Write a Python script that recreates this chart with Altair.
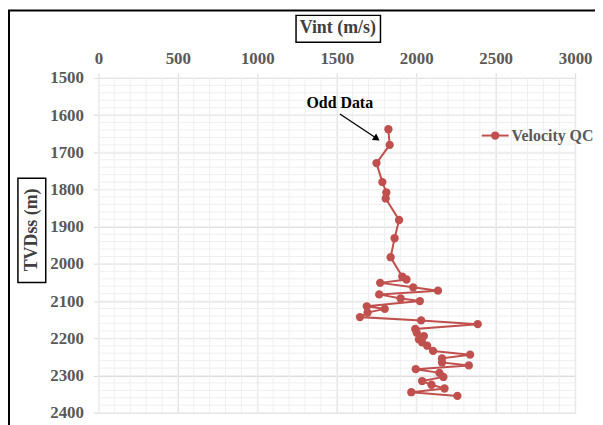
import altair as alt
import pandas as pd

# Interval velocity QC data
vint = [1825, 1833, 1750, 1787, 1812, 1808, 1892, 1864, 1839,
        1912, 1939, 1773, 1981, 2137, 1767, 1902, 2023, 1689, 1802,
        1694, 1646, 2031, 2387, 1994, 2003, 2048, 2017, 2037, 2069,
        2106, 2339, 2162, 2162, 2331, 1997, 2146, 2171, 2037, 2096,
        2178, 1969, 2259]
tvdss = [1638, 1680, 1729, 1780, 1808, 1824, 1882, 1931, 1982,
         2034, 2042, 2051, 2063, 2072, 2082, 2093, 2100, 2114, 2121,
         2131, 2143, 2152, 2162, 2175, 2185, 2194, 2203, 2211, 2220,
         2234, 2244, 2254, 2265, 2273, 2283, 2293, 2304, 2315, 2325,
         2335, 2345, 2355]

x_major = [0, 500, 1000, 1500, 2000, 2500, 3000]
y_major = [1500, 1600, 1700, 1800, 1900, 2000, 2100, 2200, 2300, 2400]
x_minor = list(range(0, 3001, 100))
y_minor = list(range(1500, 2401, 20))

note_text = ["Odd Data"]
note_x = [1519]
note_y = [1567]
arrow_x = [1520, 1752]
arrow_y = [1597, 1663]

FONT = "Liberation Serif"
RED = "#C0504D"
GRAY = "#595959"

df = pd.DataFrame({"v": vint, "d": tvdss, "i": list(range(len(vint)))})

xs = alt.Scale(domain=[0, 3000], nice=False, zero=False)
ys = alt.Scale(domain=[1500, 2400], reverse=True, nice=False, zero=False)

AX = alt.Axis(orient="top", values=x_major, title=None, format="d",
              labelFont=FONT, labelFontSize=17, labelFontWeight="bold",
              labelColor=GRAY, labelPadding=6, tickSize=5,
              labelFlush=False, labelOverlap=False,
              tickColor="#d9d9d9", grid=True, gridColor="#d9d9d9",
              domain=False)
AY = alt.Axis(values=y_major, title=None, format="d",
              labelFont=FONT, labelFontSize=17, labelFontWeight="bold",
              labelColor=GRAY, labelPadding=10, tickSize=5,
              labelFlush=False, labelOverlap=False,
              tickColor="#d9d9d9", grid=True, gridColor="#d9d9d9",
              domain=False)


def X(f="v:Q"):
    return alt.X(f, scale=xs, axis=AX)


def Y(f="d:Q"):
    return alt.Y(f, scale=ys, axis=AY)


minor_x = alt.Chart(pd.DataFrame({"v": x_minor})).mark_rule(
    color="#efefef", strokeWidth=1).encode(x=X())
minor_y = alt.Chart(pd.DataFrame({"d": y_minor})).mark_rule(
    color="#efefef", strokeWidth=1).encode(y=Y())

line = alt.Chart(df).mark_line(color=RED, strokeWidth=2).encode(
    x=X(), y=Y(), order=alt.Order("i:Q"))
pts = alt.Chart(df).mark_point(filled=True, color=RED, size=70, opacity=1).encode(
    x=X(), y=Y())

note = alt.Chart(pd.DataFrame({"t": note_text, "v": note_x, "d": note_y})).mark_text(
    font=FONT, fontSize=16, fontWeight="bold", color="black", baseline="middle"
).encode(x=X(), y=Y(), text="t:N")

adf = pd.DataFrame({"v": arrow_x, "d": arrow_y, "i": [0, 1]})
arrow = alt.Chart(adf).mark_line(color="black", strokeWidth=1.3).encode(
    x=X(), y=Y(), order="i:Q")
head = alt.Chart(adf.iloc[[1]]).mark_point(
    shape="triangle-up", filled=True, color="black", size=60, angle=123, opacity=1
).encode(x=X(), y=Y())

one = pd.DataFrame({"a": [0]})
# legend
leg_line = alt.Chart(one).mark_rule(color=RED, strokeWidth=2).encode(
    x=alt.value(386), x2=alt.value(413), y=alt.value(58))
leg_pt = alt.Chart(one).mark_point(filled=True, color=RED, size=70, opacity=1).encode(
    x=alt.value(399.5), y=alt.value(58))
leg_txt = alt.Chart(one).mark_text(
    text="Velocity QC", font=FONT, fontSize=16, fontWeight="bold", color=GRAY,
    align="left", baseline="middle").encode(x=alt.value(416), y=alt.value(58))

# axis titles with boxes
TCOL = "#404040"
xt = alt.Chart(one).mark_text(
    text="Vint (m/s)", font=FONT, fontSize=18, fontWeight="bold", color=TCOL,
    align="center", baseline="middle").encode(x=alt.value(241), y=alt.value(-50))
xt_box = alt.Chart(one).mark_rect(fill="transparent", stroke="black", strokeWidth=1.5).encode(
    x=alt.value(199), x2=alt.value(284), y=alt.value(-63), y2=alt.value(-36))
yt = alt.Chart(one).mark_text(
    text="TVDss (m)", font=FONT, fontSize=18, fontWeight="bold", color=TCOL,
    align="center", baseline="middle", angle=270).encode(x=alt.value(-67), y=alt.value(153))
yt_box = alt.Chart(one).mark_rect(fill="transparent", stroke="black", strokeWidth=1.5).encode(
    x=alt.value(-81), x2=alt.value(-53), y=alt.value(101), y2=alt.value(206))

border = alt.Chart(one).mark_rect(fill="transparent", stroke="black", strokeWidth=2).encode(
    x=alt.value(-90), x2=alt.value(700), y=alt.value(-68), y2=alt.value(600))

chart = alt.layer(
    minor_x, minor_y, line, pts, note, arrow, head,
    leg_line, leg_pt, leg_txt, xt, xt_box, yt, yt_box, border
).properties(
    width=480, height=337,
    autosize=alt.AutoSizeParams(type="none"),
    padding={"left": 91, "top": 69, "right": 20, "bottom": 11},
).configure_view(stroke="transparent")

chart.save("out.html", embed_options={"renderer": "svg", "actions": False})
